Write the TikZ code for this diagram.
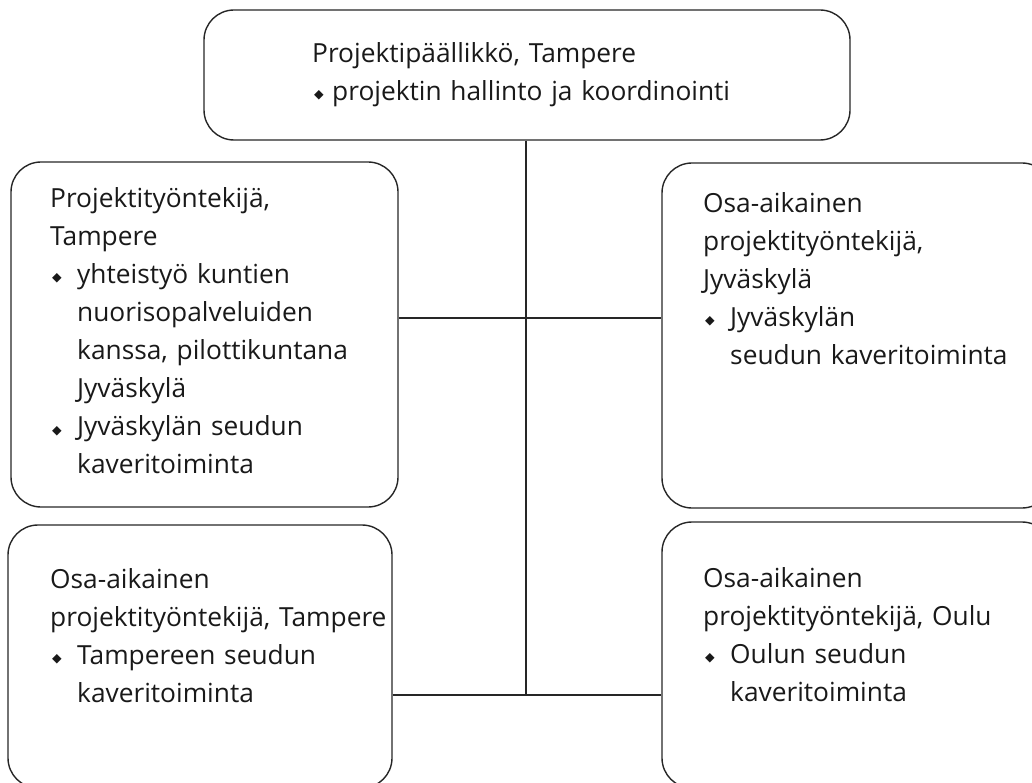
\documentclass[tikz,border=0pt]{standalone}
\usepackage{fontspec}
\setmainfont{Open Sans}
\newfontfamily\symf{DejaVu Sans}
\hyphenpenalty=10000
\newcommand\diam{\raisebox{2pt}{\symf\fontsize{12.5}{12.5}\selectfont ◆}}
\newcommand\bul{\makebox[27pt][l]{\hspace*{2pt}\diam}}
\newcommand\ind{\hspace*{27pt}}
\begin{document}
\begin{tikzpicture}[x=1pt,y=-1pt,
  box/.style={draw=black!85, line width=1.4pt, rounded corners=30pt, inner sep=0pt},
  txt/.style={anchor=base west, inner sep=0pt, text width=640pt, align=left,
    font=\fontsize{26.3}{38}\selectfont, text=black!90},
  conn/.style={draw=black!85, line width=2.6pt}]
\path[use as bounding box] (0,0) rectangle (1032,783);
\begin{scope}
\clip (0,0) rectangle (1032,783);
\node[box, minimum width=646pt, minimum height=130pt] (top) at (527,75) {};
\node[box, minimum width=387pt, minimum height=345pt] (ml) at (204.5,334.5) {};
\node[box, minimum width=390pt, minimum height=345pt] (mr) at (857,335.5) {};
\node[box, minimum width=384pt, minimum height=263pt] (bl) at (200,656.5) {};
\node[box, minimum width=390pt, minimum height=266pt] (br) at (857,655) {};
\end{scope}
\node[txt] (ttop) at (312,63) {Projektipäällikkö, Tampere\\\makebox[20pt][l]{\hspace*{2pt}\diam}projektin hallinto ja koordinointi};
\node[txt] (tml) at (50,208) {Projektityöntekijä,\\Tampere\\\bul yhteistyö kuntien\\\ind nuorisopalveluiden\\\ind kanssa, pilottikuntana\\\ind Jyväskylä\\\bul Jyväskylän seudun\\\ind kaveritoiminta};
\node[txt] (tmr) at (703,213) {Osa-aikainen\\projektityöntekijä,\\Jyväskylä\\\bul Jyväskylän\\\ind seudun kaveritoiminta};
\node[txt] (tbl) at (50,588) {Osa-aikainen\\projektityöntekijä, Tampere\\\bul Tampereen seudun\\\ind kaveritoiminta};
\node[txt] (tbr) at (703,587) {Osa-aikainen\\projektityöntekijä, Oulu\\\bul Oulun seudun\\\ind kaveritoiminta};
\coordinate (mj) at (526,318);
\coordinate (bj) at (526,695);
\draw[conn] (top.south -| mj) -- (bj);
\draw[conn] (ml.east |- mj) -- (mr.west |- mj);
\draw[conn] (bl.east |- bj) -- (br.west |- bj);
\end{tikzpicture}
\end{document}
